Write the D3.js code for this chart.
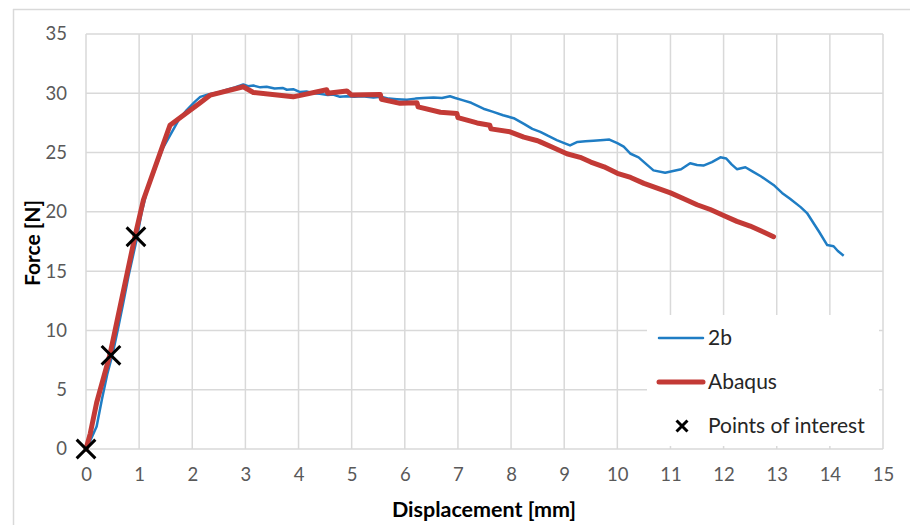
<!DOCTYPE html>
<html>
<head>
<meta charset="utf-8">
<script src="https://cdn.jsdelivr.net/npm/d3@7"></script>
<style>
  body { margin: 0; background: #fff; }
  svg { font-family: Lato, 'Open Sans', sans-serif; }
</style>
</head>
<body>
<div id="app"></div>
<script>
// experimental curve "2b" [displacement mm, force N]
const test2b = [
  [0,0],[0.05,0.4],[0.12,1.1],[0.2,1.9],[0.3,4.2],[0.4,6.3],[0.5,8.0],[0.6,10.1],[0.7,12.3],[0.8,14.6],
  [0.95,17.6],[1.05,20.0],[1.15,21.8],[1.3,23.6],[1.45,25.4],[1.6,26.6],[1.75,27.8],[1.9,28.6],[2.05,29.3],
  [2.15,29.7],[2.3,29.9],[2.5,30.1],[2.65,30.3],[2.8,30.5],[2.96,30.75],[3.05,30.6],[3.15,30.65],[3.28,30.5],
  [3.4,30.55],[3.55,30.4],[3.7,30.45],[3.78,30.3],[3.9,30.35],[4.03,30.1],[4.15,30.15],[4.28,30.0],[4.4,29.95],
  [4.55,29.85],[4.65,29.9],[4.78,29.7],[4.9,29.75],[5.05,29.7],[5.2,29.75],[5.41,29.65],[5.55,29.7],[5.7,29.55],
  [5.85,29.5],[6.04,29.45],[6.2,29.55],[6.35,29.6],[6.54,29.65],[6.7,29.6],[6.85,29.75],[6.95,29.6],[7.1,29.4],
  [7.25,29.2],[7.48,28.7],[7.65,28.45],[7.85,28.15],[8.05,27.9],[8.25,27.4],[8.4,27.0],[8.55,26.75],[8.7,26.4],
  [8.86,26.05],[9.0,25.8],[9.11,25.6],[9.25,25.9],[9.4,25.95],[9.55,26.0],[9.74,26.06],[9.85,26.1],[10.0,25.8],
  [10.12,25.5],[10.25,24.9],[10.4,24.6],[10.55,24.0],[10.68,23.5],[10.9,23.3],[11.05,23.45],[11.2,23.6],
  [11.37,24.1],[11.5,23.95],[11.62,23.9],[11.78,24.2],[11.94,24.6],[12.05,24.5],[12.15,24.0],[12.25,23.6],
  [12.41,23.76],[12.55,23.4],[12.7,23.0],[12.94,22.27],[13.1,21.6],[13.25,21.1],[13.45,20.4],[13.57,19.9],
  [13.7,19.0],[13.8,18.3],[13.95,17.2],[14.07,17.1],[14.15,16.7],[14.26,16.3]
]

// simulation curve "Abaqus"
const abaqus = [
  [0,0],[0.08,1.3],[0.2,3.9],[0.45,7.95],[0.92,17.9],[1.08,21.0],[1.58,27.3],[2.15,29.2],[2.34,29.85],
  [2.96,30.55],[3.15,30.07],[3.9,29.7],[4.53,30.3],[4.55,30.0],[4.91,30.2],[5.0,29.85],[5.54,29.9],
  [5.56,29.5],[5.91,29.15],[6.23,29.2],[6.25,28.85],[6.67,28.4],[6.98,28.3],[7.0,27.95],[7.36,27.5],
  [7.6,27.3],[7.62,27.0],[7.98,26.75],[8.24,26.3],[8.5,26.0],[8.55,25.9],[8.8,25.4],[9.05,24.9],
  [9.3,24.6],[9.5,24.2],[9.75,23.8],[10.0,23.25],[10.25,22.9],[10.5,22.4],[10.75,22.0],[11.0,21.6],
  [11.25,21.1],[11.5,20.6],[11.75,20.2],[12.0,19.7],[12.25,19.2],[12.5,18.8],[12.75,18.3],[12.94,17.9]
]

// points of interest
const points = [[0,0],[0.47,7.9],[0.94,17.9]]

const xTicks = d3.range(0,16,1)
const yTicks = d3.range(0,36,5)

const W = 910, H = 525
const svg = d3.select('#app').append('svg').attr('width',W).attr('height',H)

const x = d3.scaleLinear().domain([0,15]).range([86,883])
const y = d3.scaleLinear().domain([0,35]).range([449,34])

// chart frame (top and left edges only)
svg.append('line').attr('x1',13).attr('x2',W).attr('y1',9.5).attr('y2',9.5).attr('stroke','#d9d9d9').attr('stroke-width',1.5)
svg.append('line').attr('x1',13.5).attr('x2',13.5).attr('y1',9).attr('y2',H).attr('stroke','#d9d9d9').attr('stroke-width',1.5)

// grid
const grid = svg.append('g')
grid.selectAll('line.v').data(xTicks).enter().append('line').attr('class','v')
  .attr('x1',d => x(d)).attr('x2',d => x(d)).attr('y1',y(35)).attr('y2',y(0))
  .attr('stroke','#d9d9d9').attr('stroke-width',1.5)
grid.selectAll('line.h').data(yTicks).enter().append('line').attr('class','h')
  .attr('x1',x(0)).attr('x2',x(15)).attr('y1',d => y(d)).attr('y2',d => y(d))
  .attr('stroke','#d9d9d9').attr('stroke-width',1.5)

// axes labels
const xAxis = svg.append('g').attr('transform',`translate(0,${y(0)})`)
  .call(d3.axisBottom(x).tickValues(xTicks).tickSize(0).tickPadding(21))
const yAxis = svg.append('g').attr('transform',`translate(${x(0)},0)`)
  .call(d3.axisLeft(y).tickValues(yTicks).tickSize(0).tickPadding(19))
for (const a of [xAxis,yAxis]) {
  a.select('.domain').remove()
  a.selectAll('text').attr('fill','#595959').style('font-size','18.5px').style('font-family','Lato, sans-serif')
}
xAxis.selectAll('text').attr('dy','0.6em')

svg.append('text').attr('x',484).attr('y',517).attr('text-anchor','middle')
  .style('font-size','21.5px').style('font-weight','bold').text('Displacement [mm]')
svg.append('text').attr('transform','translate(40,243) rotate(-90)').attr('text-anchor','middle')
  .style('font-size','21px').style('font-weight','bold').text('Force [N]')

// series
const line = d3.line().x(d => x(d[0])).y(d => y(d[1]))
const plot = svg.append('g')
plot.append('path').datum(test2b).attr('d',line).attr('fill','none')
  .attr('stroke','#1f7dc4').attr('stroke-width',2.5).attr('stroke-linejoin','round')
plot.append('path').datum(abaqus).attr('d',line).attr('fill','none')
  .attr('stroke','#c33a36').attr('stroke-width',5).attr('stroke-linejoin','round').attr('stroke-linecap','round')

const cross = d3.symbol().type(d3.symbolX).size(230)
plot.selectAll('path.poi').data(points).enter().append('path').attr('class','poi')
  .attr('d',cross).attr('transform',d => `translate(${x(d[0])},${y(d[1])})`)
  .attr('fill','none').attr('stroke','#000').attr('stroke-width',3)

// legend
const lg = svg.append('g')
lg.append('rect').attr('x',647).attr('y',315).attr('width',232).attr('height',131).attr('fill','#fff')
const items = [
  {name:'2b', kind:'line', color:'#1f7dc4', w:2.5},
  {name:'Abaqus', kind:'line', color:'#c33a36', w:5},
  {name:'Points of interest', kind:'x'}
]
items.forEach((it,i) => {
  const cy = 338 + i * 44
  if (it.kind === 'line') {
    lg.append('line').attr('x1',659).attr('x2',703).attr('y1',cy).attr('y2',cy)
      .attr('stroke',it.color).attr('stroke-width',it.w).attr('stroke-linecap','round')
  } else {
    lg.append('path').attr('d',d3.symbol().type(d3.symbolX).size(80)())
      .attr('transform',`translate(682,${cy})`).attr('fill','none').attr('stroke','#000').attr('stroke-width',3)
  }
  lg.append('text').attr('x',708).attr('y',cy).attr('dy','0.35em')
    .style('font-size','21px').attr('fill','#262626').text(it.name)
})
</script>
</body>
</html>
